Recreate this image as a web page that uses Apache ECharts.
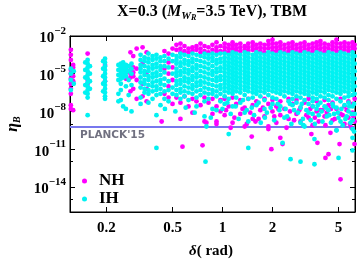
<!DOCTYPE html>
<html><head><meta charset="utf-8">
<script src="https://cdn.jsdelivr.net/npm/echarts@6/dist/echarts.min.js"></script>
<style>html,body{margin:0;padding:0;background:#fff}#c{width:360px;height:261px}</style>
</head><body><div id="c"></div>
<script>
// tick labels
const xTicks = [0.2, 0.5, 1, 2, 5];
const yTicks = [1e-2, 1e-5, 1e-8, 1e-11, 1e-14];
const yMinor = [1e-3, 1e-6, 1e-9, 1e-12, 1e-15];
const planck = 6e-10;
const seriesNames = ['NH', 'IH'];

// NH points: [delta (rad), list of log10(eta_B)]
const nhCols = [
[0.122,[-3.1,-3.5,-3.9,-4.7,-5.0,-5.4,-5.8,-6.2,-6.6,-7.5,-7.8]],
[0.126,[-4.3,-4.5,-5.2,-5.6,-7.9]],
[0.154,[-3.4,-5.5,-5.8]],
[0.196,[-4.3,-5.6]],
[0.262,[-4.5,-4.9,-5.4]],
[0.279,[-3.3,-4.4,-4.7,-5.0,-5.3,-6.4]],
[0.290,[-3.6,-4.5,-4.9,-5.2,-6.2]],
[0.304,[-3.0,-4.6,-5.5,-7.0]],
[0.330,[-2.9,-4.2,-5.8,-6.8]],
[0.349,[-3.3,-4.9,-6.2,-7.2]],
[0.447,[-3.2,-4.6,-6.6]],
[0.473,[-3.4,-4.1,-5.0,-6.0,-6.9]],
[0.500,[-3.0,-4.5,-5.5,-7.4]],
[0.528,[-2.7,-3.1,-6.9]],
[0.558,[-2.6,-3.0,-3.3,-7.3,-8.6]],
[0.590,[-2.8,-3.2,-6.8]],
[0.624,[-3.0,-3.3,-7.6]],
[0.659,[-2.9,-3.2,-7.0,-8.1]],
[0.697,[-2.8,-3.1,-7.2]],
[0.737,[-2.6,-3.0,-3.3,-7.5]],
[0.779,[-2.8,-3.2,-6.9,-8.8]],
[0.823,[-2.9,-3.3,-7.3]],
[0.870,[-2.7,-3.1,-7.0,-8.2]],
[0.920,[-2.5,-2.9,-3.2,-7.6,-9.0]],
[0.972,[-2.8,-3.2,-7.1,-8.0]],
[1.03,[-2.6,-2.9,-3.2,-7.0,-8.3]],
[1.09,[-2.7,-3.0,-3.3,-7.6]],
[1.15,[-2.5,-2.8,-3.1,-6.9,-8.9]],
[1.21,[-2.7,-3.0,-3.2,-7.4]],
[1.28,[-2.6,-2.9,-3.2,-7.1,-8.2]],
[1.36,[-2.8,-3.1,-7.7,-9.2]],
[1.43,[-2.6,-2.9,-3.2,-7.0]],
[1.52,[-2.5,-2.8,-3.1,-7.5,-8.6]],
[1.60,[-2.7,-3.0,-3.3,-7.2]],
[1.69,[-2.6,-2.9,-3.2,-7.9]],
[1.79,[-2.7,-3.0,-3.3,-7.0,-8.4]],
[1.89,[-2.4,-2.7,-3.0,-7.4,-9.2]],
[2.00,[-2.3,-2.6,-2.9,-3.2,-7.1,-8.0]],
[2.11,[-2.6,-2.9,-3.2,-7.6,-8.9]],
[2.23,[-2.5,-2.8,-3.1,-7.2,-8.3]],
[2.36,[-2.7,-3.0,-3.3,-7.8]],
[2.50,[-2.6,-2.9,-3.2,-7.0,-8.6]],
[2.64,[-2.5,-2.8,-3.1,-7.4]],
[2.79,[-2.7,-3.0,-3.3,-7.1,-8.2]],
[2.95,[-2.6,-2.9,-3.2,-7.7,-8.8]],
[3.12,[-2.5,-2.8,-3.1,-7.3]],
[3.30,[-2.7,-3.0,-3.3,-7.0,-8.5]],
[3.49,[-2.6,-2.9,-3.2,-7.6,-9.1]],
[3.69,[-2.5,-2.8,-3.1,-7.2,-8.0]],
[3.89,[-2.4,-2.7,-3.0,-3.3,-7.9]],
[4.12,[-2.6,-2.9,-3.2,-7.1,-8.4]],
[4.35,[-2.7,-3.0,-3.3,-7.5]],
[4.60,[-2.5,-2.8,-3.1,-7.3,-8.7]],
[4.86,[-2.3,-2.6,-2.9,-3.2,-7.8]],
[5.14,[-2.6,-2.9,-3.2,-7.0,-8.2]],
[5.43,[-2.5,-2.8,-3.1,-7.6,-9.0]],
[5.74,[-2.6,-2.9,-3.2,-7.2,-8.5]],
[6.07,[-2.5,-2.8,-3.1,-7.4,-8.1]],
[6.25,[-2.7,-3.0,-7.0,-8.8]]
];
// NH scattered points near / below the Planck line: [delta, log10(eta_B)]
const nhLow = [
[0.43,-8.8],[0.574,-10.8],[0.758,-10.7],[0.80,-8.9],[0.92,-8.8],[1.12,-9.3],[1.40,-9.0],
[1.50,-10.0],[1.58,-8.8],[1.89,-9.4],[1.97,-11.0],[2.23,-10.1],[2.30,-10.6],[2.43,-9.3],
[3.43,-9.8],[3.73,-10.5],[4.17,-11.7],[4.17,-9.1],[4.35,-11.4],[4.47,-9.7],[5.07,-10.6],
[5.14,-13.4],[5.98,-9.3],[6.24,-10.6],
[1.05,-7.9],[1.18,-8.5],[1.32,-7.8],[1.47,-8.1],[1.65,-8.6],[1.75,-7.7],[2.05,-8.4],
[2.17,-7.8],[2.55,-8.0],[2.70,-8.7],[2.90,-7.9],[3.20,-8.3],[3.38,-7.8],[3.60,-8.5],
[3.80,-8.8],[4.00,-7.9],[4.25,-8.1],[4.50,-7.8],[4.75,-8.6],[5.30,-8.3],[5.60,-7.9],
[5.85,-9.0],[6.15,-8.4]
];

// IH points: [delta (rad), list of log10(eta_B)]
const ihCols = [
[0.122,[-4.6,-5.0,-5.5,-6.3]],
[0.127,[-4.8,-5.8]],
[0.149,[-4.1,-4.7,-5.3,-5.9,-6.5]],
[0.154,[-3.9,-4.2,-4.5,-4.8,-5.1,-5.4,-5.7,-6.0,-6.3,-6.6,-6.9,-8.3]],
[0.159,[-4.4,-5.0,-5.6,-6.2]],
[0.191,[-4.0,-4.6,-5.2,-5.8,-6.4]],
[0.196,[-3.8,-4.1,-4.4,-4.7,-5.0,-5.3,-5.6,-5.9,-6.2,-6.5,-6.8,-7.0]],
[0.236,[-4.3,-4.7,-5.1,-5.5,-6.6,-7.2]],
[0.244,[-4.2,-4.5,-4.8,-5.1,-5.4,-5.8,-6.3,-7.1]],
[0.252,[-4.1,-4.4,-4.7,-5.0,-5.3,-7.6]],
[0.262,[-4.3,-4.6,-4.9,-5.2,-6.0,-7.8]],
[0.272,[-4.4,-4.8,-5.5,-6.7]],
[0.283,[-4.2,-4.6,-5.0,-5.9,-8.0]],
[0.321,[-3.5,-3.9,-4.3,-4.6,-4.9,-5.3,-5.7,-6.1,-6.9,-7.4]],
[0.339,[-3.7,-4.0,-4.4,-4.8,-5.1,-5.5,-5.8,-6.2,-6.5]],
[0.358,[-3.4,-3.8,-4.1,-4.5,-4.8,-5.2,-5.5,-5.9,-6.3,-6.6,-7.3]],
[0.379,[-3.6,-3.9,-4.3,-4.6,-5.0,-5.3,-5.7,-6.0,-6.4,-7.0]],
[0.400,[-3.5,-3.8,-4.2,-4.5,-4.9,-5.2,-5.6,-6.0,-6.3,-6.7,-8.3]],
[0.423,[-3.7,-4.0,-4.4,-4.7,-5.1,-5.5,-5.8,-6.2,-6.6,-7.5]],
[0.447,[-3.6,-4.0,-4.4,-4.9,-5.4,-5.9,-6.4,-7.0]],
[0.473,[-3.8,-4.5,-5.6,-6.3,-7.2]],
[0.500,[-3.5,-4.0,-5.0,-6.1,-6.6]],
[0.528,[-3.6,-3.9,-4.2,-4.6,-4.9,-5.2,-5.6,-5.9,-6.3,-6.7]],
[0.558,[-3.4,-3.7,-4.1,-4.4,-4.8,-5.1,-5.5,-5.8,-6.2,-6.5,-7.0]],
[0.590,[-3.5,-3.9,-4.2,-4.6,-4.9,-5.3,-5.6,-6.0,-6.4,-6.8]],
[0.624,[-3.6,-4.0,-4.3,-4.7,-5.0,-5.4,-5.7,-6.1,-6.5,-7.1]],
[0.659,[-3.4,-3.8,-4.1,-4.5,-4.8,-5.2,-5.5,-5.9,-6.2,-6.6]],
[0.697,[-3.5,-3.9,-4.3,-4.6,-5.0,-5.3,-5.7,-6.0,-6.4,-6.9,-7.6]],
[0.737,[-3.6,-4.0,-4.4,-4.8,-5.2,-5.6,-5.9,-6.3,-6.7]],
[0.779,[-3.4,-3.7,-4.1,-4.5,-4.9,-5.3,-5.7,-6.1,-6.5,-7.2,-8.4]],
[0.823,[-3.5,-3.8,-4.2,-4.6,-5.0,-5.4,-5.8,-6.2,-6.6,-7.0]],
[0.870,[-3.4,-3.7,-4.0,-4.4,-4.8,-5.1,-5.5,-5.9,-6.3,-6.6,-7.8]],
[0.920,[-3.5,-3.9,-4.2,-4.6,-4.9,-5.3,-5.6,-6.0,-6.4,-6.8]],
[0.972,[-3.4,-3.8,-4.1,-4.5,-4.8,-5.2,-5.5,-5.9,-6.2,-6.6,-7.2]],
[1.03,[-3.4,-3.7,-4.0,-4.3,-4.6,-4.9,-5.2,-5.5,-5.8,-6.1,-6.4,-6.8,-7.4]],
[1.09,[-3.5,-3.8,-4.1,-4.4,-4.7,-5.0,-5.3,-5.6,-5.9,-6.2,-6.5,-7.0]],
[1.15,[-3.3,-3.6,-3.9,-4.2,-4.5,-4.8,-5.1,-5.4,-5.7,-6.0,-6.3,-6.6,-7.6]],
[1.21,[-3.4,-3.7,-4.0,-4.3,-4.6,-4.9,-5.2,-5.5,-5.8,-6.1,-6.4,-6.9]],
[1.28,[-3.5,-3.8,-4.1,-4.4,-4.7,-5.0,-5.3,-5.6,-5.9,-6.2,-6.5,-7.3]],
[1.36,[-3.3,-3.6,-3.9,-4.2,-4.5,-4.8,-5.1,-5.4,-5.7,-6.0,-6.3,-6.7,-8.1]],
[1.43,[-3.4,-3.7,-4.0,-4.3,-4.6,-4.9,-5.2,-5.5,-5.8,-6.1,-6.4,-7.0,-8.8]],
[1.52,[-3.5,-3.8,-4.1,-4.4,-4.7,-5.0,-5.3,-5.6,-5.9,-6.2,-6.5,-6.9]],
[1.60,[-3.3,-3.6,-3.9,-4.2,-4.5,-4.8,-5.1,-5.4,-5.7,-6.0,-6.3,-6.6,-7.5]],
[1.69,[-3.4,-3.7,-4.0,-4.3,-4.6,-4.9,-5.2,-5.5,-5.8,-6.1,-6.4,-6.8]],
[1.79,[-3.5,-3.8,-4.1,-4.4,-4.7,-5.0,-5.3,-5.6,-5.9,-6.2,-6.5,-7.1,-7.8]],
[1.89,[-3.3,-3.6,-3.9,-4.2,-4.5,-4.8,-5.1,-5.4,-5.7,-6.0,-6.3,-6.7]],
[2.00,[-3.4,-3.7,-4.0,-4.3,-4.6,-4.9,-5.2,-5.5,-5.8,-6.1,-6.4,-6.9,-7.4]],
[2.11,[-3.5,-3.8,-4.1,-4.4,-4.7,-5.0,-5.3,-5.6,-5.9,-6.2,-6.5,-7.0]],
[2.23,[-3.3,-3.6,-3.9,-4.2,-4.5,-4.8,-5.1,-5.4,-5.7,-6.0,-6.3,-6.6,-7.6]],
[2.36,[-3.4,-3.7,-4.0,-4.3,-4.6,-4.9,-5.2,-5.5,-5.8,-6.1,-6.4,-6.8,-8.5]],
[2.50,[-3.5,-3.8,-4.1,-4.4,-4.7,-5.0,-5.3,-5.6,-5.9,-6.2,-6.5,-7.2]],
[2.64,[-3.3,-3.6,-3.9,-4.2,-4.5,-4.8,-5.1,-5.4,-5.7,-6.0,-6.3,-6.6,-7.0,-7.5]],
[2.79,[-3.4,-3.7,-4.0,-4.3,-4.6,-4.9,-5.2,-5.5,-5.8,-6.1,-6.4,-6.8,-7.3]],
[2.95,[-3.5,-3.8,-4.1,-4.4,-4.7,-5.0,-5.3,-5.6,-5.9,-6.2,-6.5,-6.9,-7.7,-8.9]],
[3.12,[-3.3,-3.6,-3.9,-4.2,-4.5,-4.8,-5.1,-5.4,-5.7,-6.0,-6.3,-6.6,-7.1,-9.2]],
[3.30,[-3.4,-3.7,-4.0,-4.3,-4.6,-4.9,-5.2,-5.5,-5.8,-6.1,-6.4,-6.7,-7.4]],
[3.49,[-3.5,-3.8,-4.1,-4.4,-4.7,-5.0,-5.3,-5.6,-5.9,-6.2,-6.5,-6.9,-7.2,-8.2]],
[3.69,[-3.3,-3.6,-3.9,-4.2,-4.5,-4.8,-5.1,-5.4,-5.7,-6.0,-6.3,-6.6,-7.0,-7.8]],
[3.89,[-3.4,-3.7,-4.0,-4.3,-4.6,-4.9,-5.2,-5.5,-5.8,-6.1,-6.4,-6.8,-7.3]],
[4.12,[-3.5,-3.8,-4.1,-4.4,-4.7,-5.0,-5.3,-5.6,-5.9,-6.2,-6.5,-6.9,-7.6]],
[4.35,[-3.3,-3.6,-3.9,-4.2,-4.5,-4.8,-5.1,-5.4,-5.7,-6.0,-6.3,-6.7,-7.1,-7.9]],
[4.60,[-3.4,-3.7,-4.0,-4.3,-4.6,-4.9,-5.2,-5.5,-5.8,-6.1,-6.4,-6.8,-7.4]],
[4.86,[-3.5,-3.8,-4.1,-4.4,-4.7,-5.0,-5.3,-5.6,-5.9,-6.2,-6.5,-7.0,-7.7,-9.5]],
[5.14,[-3.3,-3.6,-3.9,-4.2,-4.5,-4.8,-5.1,-5.4,-5.7,-6.0,-6.3,-6.6,-7.2,-8.8]],
[5.43,[-3.4,-3.7,-4.0,-4.3,-4.6,-4.9,-5.2,-5.5,-5.8,-6.1,-6.4,-6.9,-7.5]],
[5.74,[-3.5,-3.8,-4.1,-4.4,-4.7,-5.0,-5.3,-5.6,-5.9,-6.2,-6.5,-6.8,-7.3,-8.0]],
[6.07,[-3.3,-3.6,-3.9,-4.2,-4.5,-4.8,-5.1,-5.4,-5.7,-6.0,-6.3,-6.7,-7.6,-8.7,-9.4]],
[6.25,[-3.6,-4.2,-4.8,-5.4,-6.0,-6.6,-8.2]]
];
// IH scattered points: [delta, log10(eta_B)]
const ihLow = [
[0.40,-10.9],[0.45,-7.8],[0.52,-8.0],[0.60,-7.7],[0.68,-8.1],[0.79,-12.0],[0.80,-9.2],
[0.85,-8.5],[0.92,-7.9],[1.0,-7.8],[1.09,-9.8],[1.12,-8.2],[1.25,-8.6],[1.40,-7.9],
[1.43,-10.9],[1.55,-8.3],[1.70,-8.9],[1.85,-8.1],[2.05,-8.7],[2.20,-7.9],[2.30,-10.5],
[2.45,-8.4],[2.57,-11.8],[2.60,-9.0],[2.85,-8.1],[2.95,-12.0],[3.05,-8.6],[3.07,-9.1],
[3.20,-7.9],[3.40,-8.7],[3.58,-10.2],[3.58,-12.2],[3.60,-9.0],[3.80,-8.3],[4.00,-8.8],
[4.25,-8.4],[4.50,-8.9],[4.70,-8.2],[4.86,-9.5],[5.00,-11.7],[5.00,-8.5],[5.30,-9.1],
[5.60,-8.4],[5.90,-8.9],[6.07,-10.1],[6.07,-11.1],[6.20,-9.6],
[1.07,-7.3],[1.20,-7.6],[1.33,-7.1],[1.50,-7.7],[1.65,-7.3],[1.80,-8.5],[1.95,-7.7],
[2.15,-7.4],[2.40,-7.8],[2.55,-7.4],[2.70,-7.9],[3.00,-7.4],[3.30,-8.1],[3.50,-7.6],
[3.75,-7.5],[3.95,-8.0],[4.20,-7.7],[4.40,-8.3],[4.65,-7.6],[4.95,-8.1],[5.20,-7.8],
[5.50,-8.6],[5.80,-7.6],[6.00,-8.2],[6.20,-7.4]
];

function toPoints(cols, extra) {
  const out = [];
  cols.forEach(c => c[1].forEach(e => out.push([c[0], Math.pow(10, e)])));
  extra.forEach(p => out.push([p[0], Math.pow(10, p[1])]));
  return out;
}

const SERIF = 'Liberation Serif';
const X_MIN = 0.1206, X_MAX = 6.283, Y_MIN = 1e-16, Y_MAX = 1e-2;

function yLabel(v) {
  const e = Math.round(Math.log10(v));
  return '{b|10}{s|\u2212' + Math.abs(e) + '}';
}

const chart = echarts.init(document.getElementById('c'), null, {renderer: 'canvas'});
const tickStyle = {color: '#000', width: 1};
chart.setOption({
  animation: false,
  backgroundColor: '#fff',
  grid: {left: 70, right: 5, top: 36, bottom: 49, show: true, borderColor: '#000', borderWidth: 1},
  xAxis: [
    {type: 'log', logBase: 10, min: X_MIN, max: X_MAX, position: 'bottom',
     axisLine: {show: true, lineStyle: {color: '#000'}},
     axisTick: {show: true, inside: true, length: 5, lineStyle: tickStyle, customValues: xTicks},
     axisLabel: {show: true, customValues: xTicks, margin: 9, color: '#000',
       fontFamily: SERIF, fontWeight: 'bold', fontSize: 15,
       formatter: v => String(v)},
     minorTick: {show: false}, splitLine: {show: false}},
    {type: 'log', logBase: 10, min: X_MIN, max: X_MAX, position: 'top',
     axisLine: {show: true, lineStyle: {color: '#000'}},
     axisTick: {show: true, inside: true, length: 5, lineStyle: tickStyle, customValues: xTicks},
     axisLabel: {show: false}, splitLine: {show: false}}
  ],
  yAxis: [
    {type: 'log', logBase: 10, min: Y_MIN, max: Y_MAX, position: 'left',
     axisLine: {show: true, lineStyle: {color: '#000'}},
     axisTick: {show: true, inside: true, length: 5, lineStyle: tickStyle, customValues: yTicks},
     axisLabel: {show: true, customValues: yTicks, margin: 4, formatter: yLabel,
       rich: {
         b: {fontFamily: SERIF, fontWeight: 'bold', fontSize: 15, color: '#000', lineHeight: 20, verticalAlign: 'bottom'},
         s: {fontFamily: SERIF, fontWeight: 'bold', fontSize: 11, color: '#000', lineHeight: 12, verticalAlign: 'top'}
       }},
     splitLine: {show: false}},
    {type: 'log', logBase: 10, min: Y_MIN, max: Y_MAX, position: 'left',
     axisLine: {show: false},
     axisTick: {show: true, inside: true, length: 3, lineStyle: tickStyle, customValues: yMinor},
     axisLabel: {show: false}, splitLine: {show: false}},
    {type: 'log', logBase: 10, min: Y_MIN, max: Y_MAX, position: 'right',
     axisLine: {show: true, lineStyle: {color: '#000'}},
     axisTick: {show: true, inside: true, length: 5, lineStyle: tickStyle, customValues: yTicks},
     axisLabel: {show: false}, splitLine: {show: false}},
    {type: 'log', logBase: 10, min: Y_MIN, max: Y_MAX, position: 'right',
     axisLine: {show: false},
     axisTick: {show: true, inside: true, length: 3, lineStyle: tickStyle, customValues: yMinor},
     axisLabel: {show: false}, splitLine: {show: false}}
  ],
  legend: {
    orient: 'vertical', left: 77, top: 167, itemWidth: 5, itemHeight: 5, itemGap: 0,
    icon: 'circle', data: seriesNames,
    textStyle: {fontFamily: SERIF, fontWeight: 'bold', fontSize: 17, color: '#000', lineHeight: 18, padding: [0, 0, 0, 7]}
  },
  series: [
    {name: seriesNames[0], type: 'scatter', xAxisIndex: 0, yAxisIndex: 0,
     symbol: 'circle', symbolSize: 4.8, itemStyle: {color: '#ff00ff', opacity: 1},
     data: toPoints(nhCols, nhLow),
     markLine: {silent: true, symbol: ['none', 'none'], z: 1,
       lineStyle: {color: '#7777ee', width: 2, type: 'solid'},
       label: {show: true, position: 'insideStartBottom', formatter: "PLANCK'15",
         distance: [10, 3], color: '#707080', fontFamily: 'DejaVu Sans', fontWeight: 'bold', fontSize: 10.5},
       data: [[{coord: [X_MIN, planck]}, {coord: [X_MAX, planck]}]]}},
    {name: seriesNames[1], type: 'scatter', xAxisIndex: 0, yAxisIndex: 0,
     symbol: 'circle', symbolSize: 4.8, itemStyle: {color: '#00f2f2', opacity: 1},
     data: toPoints(ihCols, ihLow)}
  ],
  graphic: [
    {type: 'text', x: 212, y: 12, silent: true,
     style: {text: '{a|X=0.3 (}{m|M}{w|W}{r|R}{a|=3.5 TeV), TBM}', align: 'center', verticalAlign: 'middle',
       rich: {
         a: {fontFamily: SERIF, fontWeight: 'bold', fontSize: 16, fill: '#000', lineHeight: 20, verticalAlign: 'middle'},
         m: {fontFamily: SERIF, fontWeight: 'bold', fontStyle: 'italic', fontSize: 16, fill: '#000', lineHeight: 20, verticalAlign: 'middle'},
         w: {fontFamily: SERIF, fontWeight: 'bold', fontStyle: 'italic', fontSize: 11, fill: '#000', lineHeight: 10, verticalAlign: 'bottom'},
         r: {fontFamily: SERIF, fontWeight: 'bold', fontStyle: 'italic', fontSize: 8, fill: '#000', lineHeight: 4, verticalAlign: 'bottom'}
       }}},
    {type: 'text', x: 13, y: 124, rotation: Math.PI / 2, silent: true,
     style: {text: '{e|\u03B7}{b|B}', align: 'center', verticalAlign: 'middle',
       rich: {
         e: {fontFamily: SERIF, fontStyle: 'italic', fontWeight: 'bold', fontSize: 16, fill: '#000', lineHeight: 18, verticalAlign: 'middle'},
         b: {fontFamily: SERIF, fontStyle: 'italic', fontWeight: 'bold', fontSize: 10, fill: '#000', lineHeight: 8, verticalAlign: 'bottom'}
       }}},
    {type: 'text', x: 211, y: 251, silent: true,
     style: {text: '{d|\u03B4}{t|( rad)}', align: 'center', verticalAlign: 'middle',
       rich: {
         d: {fontFamily: SERIF, fontStyle: 'italic', fontWeight: 'bold', fontSize: 15, fill: '#000'},
         t: {fontFamily: SERIF, fontWeight: 'bold', fontSize: 15, fill: '#000'}
       }}}
  ]
});
</script></body></html>
